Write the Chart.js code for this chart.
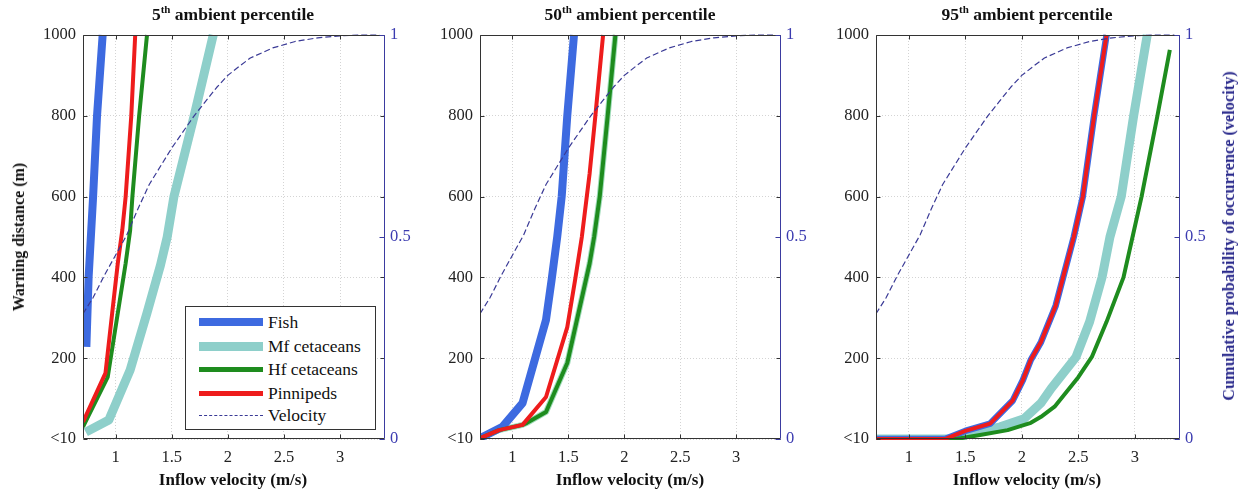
<!DOCTYPE html>
<html><head><meta charset="utf-8">
<script src="https://cdn.jsdelivr.net/npm/chart.js@4/dist/chart.umd.min.js"></script>
<style>
html,body{margin:0;padding:0;background:#fff;}
#wrap{position:relative;width:1242px;height:492px;overflow:hidden;font-family:"Liberation Serif","Times New Roman",serif;}
canvas{position:absolute;top:0;}
.ptitle{position:absolute;top:3px;font-weight:bold;font-size:17.5px;line-height:22px;color:#111;transform:translateX(-50%);white-space:nowrap;}
.ptitle sup{font-size:11px;line-height:0;vertical-align:7px;}
.xtitle{position:absolute;top:469px;font-weight:bold;font-size:17px;line-height:22px;color:#111;transform:translateX(-50%);white-space:nowrap;}
.vt{position:absolute;font-weight:bold;line-height:20px;white-space:nowrap;transform:translate(-50%,-50%) rotate(-90deg);}
#legend{position:absolute;left:185px;top:306px;width:189px;height:122px;border:1px solid #333;background:#fff;}
.lrow{position:absolute;left:0;width:189px;height:24px;}
.sw{position:absolute;left:13px;width:64px;top:50%;}
.lt{position:absolute;left:82px;top:50%;transform:translateY(-50%);font-size:17.5px;line-height:20px;color:#111;white-space:nowrap;}
</style></head>
<body>
<div id="wrap">
  <canvas id="c1" width="420" height="492" style="left:0px"></canvas>
  <canvas id="c2" width="400" height="492" style="left:420px"></canvas>
  <canvas id="c3" width="422" height="492" style="left:820px"></canvas>

  <div class="ptitle" style="left:233px">5<sup>th</sup> ambient percentile</div>
  <div class="ptitle" style="left:630px">50<sup>th</sup> ambient percentile</div>
  <div class="ptitle" style="left:1027px">95<sup>th</sup> ambient percentile</div>

  <div class="xtitle" style="left:233px">Inflow velocity (m/s)</div>
  <div class="xtitle" style="left:630px">Inflow velocity (m/s)</div>
  <div class="xtitle" style="left:1027px">Inflow velocity (m/s)</div>

  <div class="vt" style="left:19px;top:237px;color:#111;font-size:16px">Warning distance (m)</div>
  <div class="vt" style="left:1229px;top:236px;color:#2a2a8c;font-size:16.3px">Cumulative probability of occurrence (velocity)</div>

  <div id="legend">
    <div class="lrow" style="top:3px"><div class="sw" style="height:8px;margin-top:-4px;background:#3d6ae0"></div><div class="lt">Fish</div></div>
    <div class="lrow" style="top:27px"><div class="sw" style="height:9px;margin-top:-4px;background:#8ecfca"></div><div class="lt">Mf cetaceans</div></div>
    <div class="lrow" style="top:50px"><div class="sw" style="height:5px;margin-top:-2px;background:#1e8c1e"></div><div class="lt">Hf cetaceans</div></div>
    <div class="lrow" style="top:74px"><div class="sw" style="height:5px;margin-top:-2px;background:#ee1c1c"></div><div class="lt">Pinnipeds</div></div>
    <div class="lrow" style="top:96px"><div class="sw" style="height:0;border-top:1.5px dashed #3a3a96"></div><div class="lt">Velocity</div></div>
  </div>
</div>
<script>
// ---- axis ticks ----
const xTicks = [1, 1.5, 2, 2.5, 3];
const yTicks = [0, 200, 400, 600, 800, 1000];
const yTickLabels = ['<10', '200', '400', '600', '800', '1000'];
const probTicks = [0, 0.5, 1];
const probTickLabels = ['0', '0.5', '1'];

// ---- velocity cumulative probability (same in all panels) ----
const velV = [0.71,0.8,0.9,1.0,1.1,1.2,1.3,1.4,1.5,1.6,1.7,1.8,1.9,2.0,2.1,2.2,2.4,2.6,2.8,3.0,3.2,3.35];
const velP = [0.31,0.35,0.405,0.455,0.505,0.57,0.63,0.675,0.72,0.76,0.80,0.835,0.87,0.9,0.922,0.943,0.968,0.984,0.993,0.998,1.0,1.0];

// ---- 5th ambient percentile ----
const p1FishV  = [0.74,0.76,0.80,0.835,0.885];
const p1FishD  = [228,400,600,800,1000];
const p1MfV    = [0.735,0.94,1.13,1.28,1.40,1.46,1.52,1.70,1.87];
const p1MfD    = [17,47,171,312,430,500,600,800,1000];
const p1HfV    = [0.71,0.93,1.02,1.09,1.13,1.15,1.21,1.28];
const p1HfD    = [30,153,312,435,517,600,800,1000];
const p1PinV   = [0.71,0.91,0.97,1.02,1.06,1.09,1.14,1.175];
const p1PinD   = [42,163,312,435,517,600,800,1000];

// ---- 50th ambient percentile ----
const p2FishV  = [0.71,0.91,1.09,1.30,1.35,1.40,1.44,1.49,1.55];
const p2FishD  = [2,30,89,295,394,500,600,800,1000];
const p2MfV    = [0.71,0.88,1.09,1.13,1.30,1.49,1.57,1.69,1.73,1.78,1.85,1.92];
const p2MfD    = [2,22,35,40,67,188,287,435,500,600,797,1000];
const p2HfV    = [0.71,0.88,1.09,1.13,1.30,1.49,1.57,1.69,1.73,1.78,1.85,1.92];
const p2HfD    = [2,22,35,40,67,188,287,435,500,600,797,1000];
const p2PinV   = [0.71,0.88,1.09,1.30,1.49,1.56,1.62,1.69,1.74,1.81];
const p2PinD   = [2,22,35,104,277,394,500,658,797,1000];

// ---- 95th ambient percentile ----
const p3FishV  = [0.71,1.32,1.5,1.72,1.92,2.01,2.08,2.17,2.3,2.375,2.46,2.54,2.64,2.75];
const p3FishD  = [0,0,20,38,95,146,196,240,330,410,500,600,800,1000];
const p3MfV    = [0.71,1.35,1.57,1.81,2.02,2.17,2.26,2.48,2.6,2.71,2.78,2.88,2.99,3.11];
const p3MfD    = [0,0,15,30,50,89,125,203,290,400,500,600,800,1000];
const p3HfV    = [0.71,1.42,1.63,1.875,2.08,2.17,2.29,2.5,2.62,2.75,2.9,2.98,3.06,3.2,3.31];
const p3HfD    = [0,0,10,22,40,55,80,153,203,290,400,500,600,800,963];
const p3PinV   = [0.71,1.32,1.5,1.72,1.92,2.01,2.08,2.17,2.3,2.375,2.46,2.54,2.64,2.75];
const p3PinD   = [0,0,20,38,95,146,196,240,330,410,500,600,800,1000];

const COL = {fish:'#3d6ae0', mf:'#8ecfca', hf:'#1e8c1e', pin:'#ee1c1c', vel:'#3a3a96'};
const FONT = '"Liberation Serif","Times New Roman",serif';

function pts(xs, ys){ return xs.map((x,i)=>({x:x, y:ys[i]})); }

function series(label, xs, ys, color, width, order, extra){
  return Object.assign({label, data:pts(xs,ys), borderColor:color, backgroundColor:color,
    borderWidth:width, pointRadius:0, tension:0, fill:false, yAxisID:'y', order,
    clip:{left:0, top:6, right:6, bottom:1}, borderJoinStyle:'round', borderCapStyle:'butt'}, extra||{});
}

const framePlugin = {
  id:'frame',
  afterDatasetsDraw(chart){
    const {ctx, chartArea:a, scales} = chart;
    const L=Math.round(a.left)+0.5, R=Math.round(a.right)-0.5, T=Math.round(a.top)+0.5, B=Math.round(a.bottom)-0.5;
    ctx.save();
    ctx.lineWidth = 1;
    ctx.strokeStyle = '#333';
    ctx.beginPath();
    xTicks.forEach(v=>{const p=Math.round(scales.x.getPixelForValue(v))+0.5;
      ctx.moveTo(p,B); ctx.lineTo(p,B-4); ctx.moveTo(p,T); ctx.lineTo(p,T+4);});
    yTicks.forEach(v=>{const p=Math.round(scales.y.getPixelForValue(v))+0.5;
      ctx.moveTo(L,p); ctx.lineTo(L+4,p); ctx.moveTo(R,p); ctx.lineTo(R-4,p);});
    ctx.moveTo(R,T); ctx.lineTo(L,T); ctx.lineTo(L,B); ctx.lineTo(R,B);
    ctx.stroke();
    ctx.strokeStyle = '#3b3ba0';
    ctx.beginPath();
    probTicks.forEach(v=>{const p=Math.round(scales.y2.getPixelForValue(v))+0.5;
      ctx.moveTo(R,p); ctx.lineTo(R-5,p);});
    ctx.moveTo(R,T); ctx.lineTo(R,B);
    ctx.stroke();
    ctx.restore();
  }
};

function makePanel(id, leftW, rightW, datasets){
  new Chart(document.getElementById(id), {
    type:'line',
    data:{datasets},
    plugins:[framePlugin],
    options:{
      responsive:false, animation:false, devicePixelRatio:1,
      layout:{padding:{top:35,left:0,right:0,bottom:0}},
      plugins:{legend:{display:false}, tooltip:{enabled:false}, title:{display:false}},
      scales:{
        x:{type:'linear', min:0.71, max:3.4,
          afterBuildTicks:s=>{s.ticks = xTicks.map(v=>({value:v}));},
          afterFit:s=>{s.height=53;},
          ticks:{autoSkip:false, maxRotation:0, padding:9, color:'#222', font:{family:FONT,size:16.5},
            callback:v=>String(v)},
          grid:{color:'#d4d4d4', drawTicks:false, lineWidth:1},
          border:{display:false, dash:[1,2]}
        },
        y:{type:'linear', position:'left', min:0, max:1000,
          afterBuildTicks:s=>{s.ticks = yTicks.map(v=>({value:v}));},
          afterFit:s=>{s.width=leftW;},
          ticks:{autoSkip:false, padding:7, color:'#222', font:{family:FONT,size:16.5},
            callback:v=>yTickLabels[yTicks.indexOf(v)]},
          grid:{color:'#d4d4d4', drawTicks:false, lineWidth:1},
          border:{display:false, dash:[1,2]}
        },
        y2:{type:'linear', position:'right', min:0, max:1,
          afterBuildTicks:s=>{s.ticks = probTicks.map(v=>({value:v}));},
          afterFit:s=>{s.width=rightW;},
          ticks:{autoSkip:false, padding:5, color:'#3b3bb0', font:{family:FONT,size:16.5},
            callback:v=>probTickLabels[probTicks.indexOf(v)]},
          grid:{display:false, drawTicks:false},
          border:{display:false}
        }
      }
    }
  });
}

function velocity(){
  return series('Velocity', velV, velP, COL.vel, 1.2, 0, {yAxisID:'y2', borderDash:[6,3]});
}

makePanel('c1', 83, 35, [
  velocity(),
  series('Pinnipeds', p1PinV, p1PinD, COL.pin, 4, 1),
  series('Hf cetaceans', p1HfV, p1HfD, COL.hf, 4, 2),
  series('Fish', p1FishV, p1FishD, COL.fish, 8, 3),
  series('Mf cetaceans', p1MfV, p1MfD, COL.mf, 9, 4)
]);
makePanel('c2', 60, 39, [
  velocity(),
  series('Pinnipeds', p2PinV, p2PinD, COL.pin, 4, 1),
  series('Hf cetaceans', p2HfV, p2HfD, COL.hf, 4, 2),
  series('Fish', p2FishV, p2FishD, COL.fish, 8, 3),
  series('Mf cetaceans', p2MfV, p2MfD, '#9fdcb8', 6, 4)
]);
makePanel('c3', 56, 62, [
  velocity(),
  series('Pinnipeds', p3PinV, p3PinD, COL.pin, 4, 1),
  series('Hf cetaceans', p3HfV, p3HfD, COL.hf, 4, 2),
  series('Fish', p3FishV, p3FishD, COL.fish, 6.5, 3),
  series('Mf cetaceans', p3MfV, p3MfD, COL.mf, 9, 4)
]);
</script>
</body></html>
